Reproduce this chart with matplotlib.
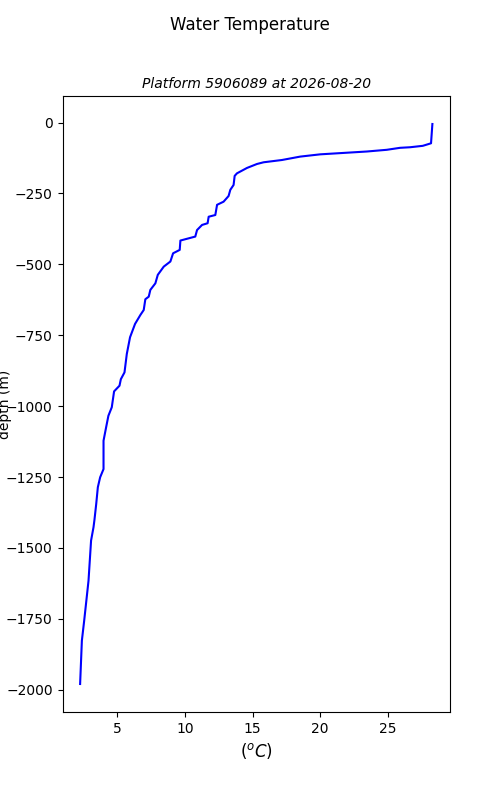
import matplotlib
matplotlib.use('Agg')
import matplotlib.pyplot as plt

# temperature profile (degC, metres)
temp = [28.29, 28.19, 27.58, 26.64, 25.9, 24.92, 23.45, 20.0, 18.52, 17.17,
        15.82, 15.33, 14.59, 13.85, 13.68, 13.6, 13.36, 13.23, 12.86, 12.38,
        12.25, 11.76, 11.68, 11.27, 10.9, 10.77, 9.67, 9.62, 9.13, 8.93,
        8.44, 8.0, 7.82, 7.45, 7.33, 7.08, 6.96, 6.72, 6.32, 5.95,
        5.71, 5.54, 5.27, 5.17, 4.77, 4.6, 4.35, 4.18, 3.99, 3.99,
        3.74, 3.57, 3.45, 3.32, 3.25, 3.07, 2.88, 2.56, 2.39, 2.26]
depth = [-5, -73, -82, -87, -89, -96, -102, -112, -120, -132,
         -140, -146, -160, -179, -188, -220, -237, -259, -279, -290,
         -326, -332, -355, -361, -379, -402, -416, -449, -461, -490,
         -508, -537, -567, -590, -614, -623, -661, -678, -710, -757,
         -816, -881, -905, -928, -948, -1004, -1034, -1075, -1122, -1222,
         -1251, -1286, -1345, -1401, -1427, -1474, -1616, -1757, -1827, -1980]

platform = '5906089'
date = '2026-08-20'

fig = plt.figure(figsize=(5, 8), dpi=100)
ax = fig.add_subplot(111)

ax.plot(temp, depth, 'b')

fig.suptitle('Water Temperature')
ax.set_title('Platform ' + platform + ' at ' + date, fontsize=10, style='italic')
ax.set_xlabel('$(^oC)$', fontsize=12)
ax.set_ylabel('depth (m)')
ax.yaxis.set_label_coords(-0.131, 0.5)

fig.savefig('out.png')
